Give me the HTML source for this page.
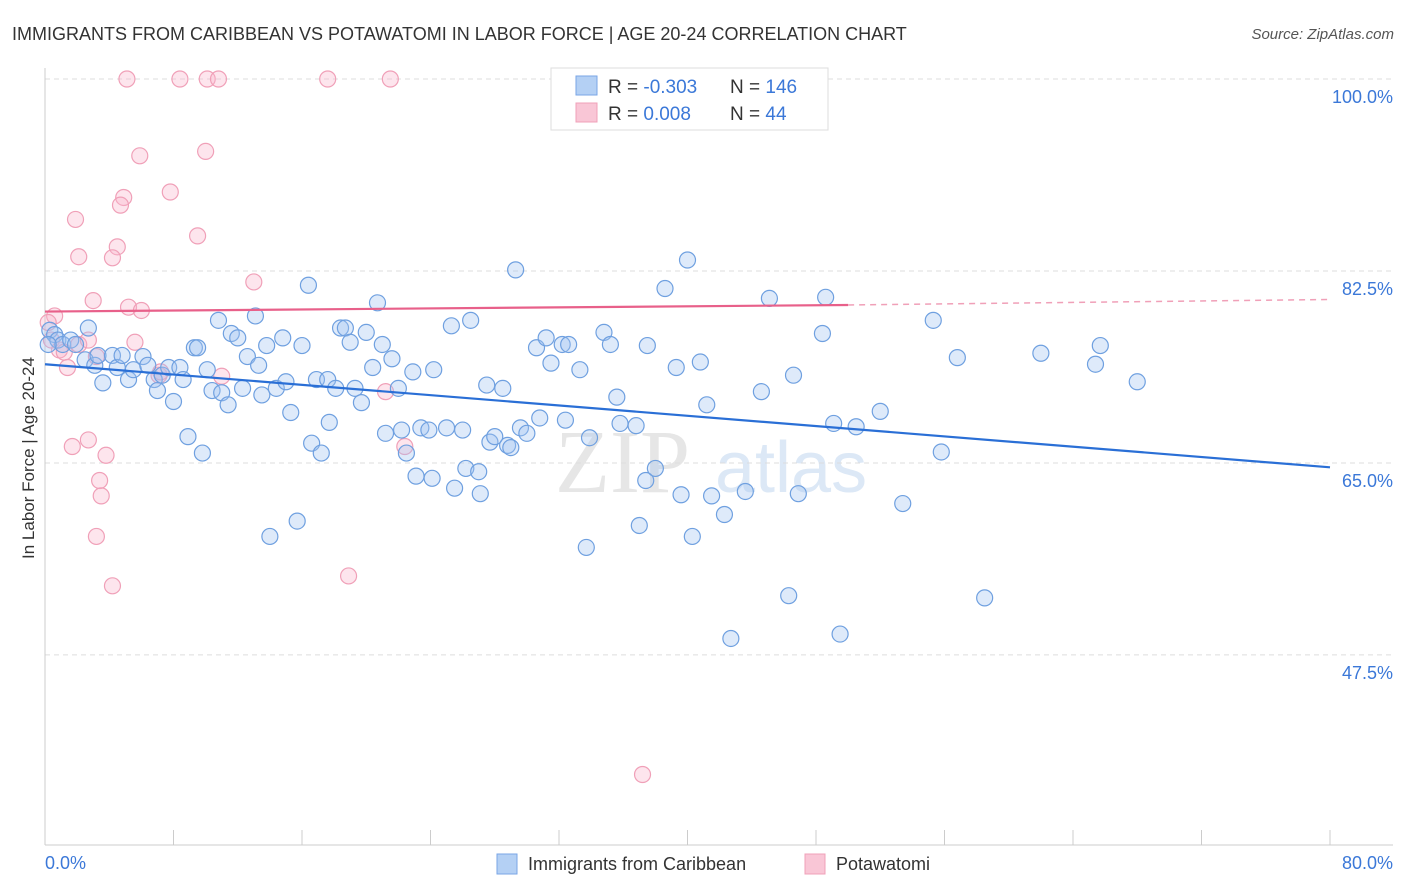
<!DOCTYPE html>
<html><head><meta charset="utf-8"><style>
body{margin:0;background:#fff;font-family:"Liberation Sans",sans-serif;}
svg{display:block}
</style></head><body>
<svg id="chart" width="1406" height="892" xmlns="http://www.w3.org/2000/svg">
<text x="12" y="40" font-size="18" fill="#333">IMMIGRANTS FROM CARIBBEAN VS POTAWATOMI IN LABOR FORCE | AGE 20-24 CORRELATION CHART</text>
<text x="1394" y="39" font-size="15" fill="#555" font-style="italic" text-anchor="end">Source: ZipAtlas.com</text>
<text x="555" y="492" font-size="90" fill="#e6e6e6" font-family="Liberation Serif,serif">ZIP</text>
<text x="715" y="492" font-size="72" fill="#dce8f6">atlas</text>
<g id="grid"></g>
<g id="axes"></g>
<g id="pink"></g>
<g id="blue"></g>
<g id="lines"></g>
<text transform="translate(34,458) rotate(-90)" font-size="17" fill="#333" text-anchor="middle">In Labor Force | Age 20-24</text>
<text x="45" y="869" font-size="18" fill="#3b78d8">0.0%</text>
<text x="1393" y="869" font-size="18" fill="#3b78d8" text-anchor="end">80.0%</text>
<g>
<rect x="551" y="68" width="277" height="62" fill="#fff" stroke="#ddd"/>
<rect x="576" y="76" width="21" height="19" fill="#b4d0f4" stroke="#7aa6e6"/>
<rect x="576" y="103" width="21" height="19" fill="#f9c6d6" stroke="#f0a0b8"/>
<text x="608" y="93" font-size="19" fill="#333">R = <tspan fill="#3b78d8">-0.303</tspan><tspan x="730">N = </tspan><tspan fill="#3b78d8">146</tspan></text>
<text x="608" y="120" font-size="19" fill="#333">R = <tspan fill="#3b78d8"> 0.008</tspan><tspan x="730">N = </tspan><tspan fill="#3b78d8"> 44</tspan></text>
</g>
<g>
<rect x="497" y="854" width="20" height="20" fill="#b4d0f4" stroke="#7aa6e6"/>
<text x="528" y="870" font-size="18" fill="#333">Immigrants from Caribbean</text>
<rect x="805" y="854" width="20" height="20" fill="#f9c6d6" stroke="#f0a0b8"/>
<text x="836" y="870" font-size="18" fill="#333">Potawatomi</text>
</g>
</svg>
<script>
const yTicks=[100,82.5,65,47.5];
const yTickLabels=["100.0%","82.5%","65.0%","47.5%"];
const xTicks=[0,8,16,24,32,40,48,56,64,72,80];
const blueX=[0.3,0.6,0.8,1.1,1.6,1.9,2.7,2.5,3.1,3.3,3.6,4.2,4.5,4.8,5.2,5.5,6.1,6.4,6.8,7.0,7.3,7.7,8.0,8.4,8.6,8.9,9.3,9.5,9.8,10.1,10.4,10.8,11.0,11.4,11.6,12.0,12.3,12.6,13.1,13.3,13.5,13.8,14.0,14.4,14.8,15.0,15.3,15.7,16.0,16.4,16.6,16.9,17.2,17.6,17.7,18.1,18.4,18.7,19.0,19.3,19.7,20.0,20.4,20.7,21.0,21.2,21.6,22.0,22.2,22.5,22.9,23.1,23.4,23.9,24.1,24.2,25.0,25.3,25.5,26.0,26.2,26.5,27.0,27.1,27.5,27.7,28.0,28.5,28.8,29.0,29.3,29.6,30.0,30.6,30.8,31.2,31.5,32.2,32.4,32.6,33.3,33.7,33.9,34.8,35.2,35.6,35.8,36.8,37.0,37.4,37.5,38.0,38.6,39.3,39.6,40.0,40.3,40.8,41.2,41.5,42.3,43.6,44.6,45.1,46.3,46.6,46.9,48.4,48.6,49.1,49.5,50.5,52.0,53.4,55.3,55.8,56.8,58.5,62.0,65.4,65.7,68.0,42.7,0.2];
const blueY=[77.1,76.7,76.2,75.8,76.2,75.8,77.3,74.4,73.9,74.8,72.3,74.8,73.7,74.8,72.6,73.5,74.7,73.9,72.6,71.6,73.0,73.7,70.6,73.7,72.6,67.4,75.5,75.5,65.9,73.5,71.6,78.0,71.4,70.3,76.8,76.4,71.8,74.7,78.4,73.9,71.2,75.7,58.3,71.8,76.4,72.4,69.6,59.7,75.7,81.2,66.8,72.6,65.9,72.6,68.7,71.8,77.3,77.3,76.0,71.8,70.5,76.9,73.7,79.6,75.8,67.7,74.5,71.8,68.0,65.9,73.3,63.8,68.2,68.0,63.6,73.5,68.2,77.5,62.7,68.0,64.5,78.0,64.2,62.2,72.1,66.9,67.4,71.8,66.6,66.4,82.6,68.2,67.7,75.5,69.1,76.4,74.1,75.8,68.9,75.8,73.5,57.3,67.3,76.9,75.8,71.0,68.6,68.4,59.3,63.4,75.7,64.5,80.9,73.7,62.1,83.5,58.3,74.2,70.3,62.0,60.3,62.4,71.5,80.0,52.9,73.0,62.2,76.8,80.1,68.6,49.4,68.3,69.7,61.3,78.0,66.0,74.6,52.7,75.0,74.0,75.7,72.4,49.0,75.8];
const pinkX=[5.1,8.4,10.1,10.8,17.6,21.5,43.1,5.9,10.0,7.8,4.9,4.7,1.9,9.5,4.5,2.1,4.2,13.0,3.0,5.2,6.0,0.6,0.2,0.4,0.9,1.2,2.1,2.7,3.2,1.4,5.6,7.1,11.0,1.7,2.7,3.8,3.4,3.5,3.2,4.2,18.9,21.2,22.4,37.2,7.2];
const pinkY=[100,100,100,100,100,100,100,93.0,93.4,89.7,89.2,88.5,87.2,85.7,84.7,83.8,83.7,81.5,79.8,79.2,78.9,78.4,77.8,76.2,75.3,75.1,75.8,76.2,74.7,73.7,76.0,73.0,72.9,66.5,67.1,65.7,63.4,62.0,58.3,53.8,54.7,71.5,66.5,36.6,73.3];
const blueLine=[74.0,64.6];
const pinkLine=[78.8,79.4,79.9];
const NS="http://www.w3.org/2000/svg";
const X=v=>45+v/80*1285;
const Y=v=>79+(100-v)*10.97;
function mk(tag,attrs,parent){const e=document.createElementNS(NS,tag);for(const k in attrs)e.setAttribute(k,attrs[k]);parent.appendChild(e);return e;}
const grid=document.getElementById('grid'),axes=document.getElementById('axes');
yTicks.forEach((t,i)=>{
  const l=mk('line',{x1:45,x2:1393,y1:Y(t),y2:Y(t),stroke:'#ddd','stroke-dasharray':'5,4'},grid);
  
  
  const tx=mk('text',{x:1393,y:Y(t)+24,'font-size':18,fill:'#3b78d8','text-anchor':'end'},axes);
  tx.textContent=yTickLabels[i];
  
  
});
const ax=mk('line',{x1:45,x2:45,y1:68,y2:845,stroke:'#ccc'},axes);


const bx=mk('line',{x1:45,x2:1393,y1:845,y2:845,stroke:'#ccc'},axes);


xTicks.forEach(t=>{
  const l=mk('line',{x1:X(t),x2:X(t),y1:830,y2:845,stroke:'#ccc'},axes);
  
  
});
const pg=document.getElementById('pink');
pinkX.forEach((x,i)=>{
  const c=mk('circle',{cx:X(x),cy:Y(pinkY[i]),r:8,fill:'rgba(248,180,202,0.35)',stroke:'#f0a0b8','stroke-width':1.2},pg);
  
  
});
const bg=document.getElementById('blue');
blueX.forEach((x,i)=>{
  const c=mk('circle',{cx:X(x),cy:Y(blueY[i]),r:8,fill:'rgba(160,196,240,0.35)',stroke:'#6fa0e0','stroke-width':1.2},bg);
  
  
});
const lg=document.getElementById('lines');
const b=mk('line',{x1:X(0),y1:Y(blueLine[0]),x2:X(80),y2:Y(blueLine[1]),stroke:'#2a6fd6','stroke-width':2.2},lg);


const p=mk('line',{x1:X(0),y1:Y(pinkLine[0]),x2:X(50),y2:Y(pinkLine[1]),stroke:'#e8608a','stroke-width':2.2},lg);


const pd=mk('line',{x1:X(50),y1:Y(pinkLine[1]),x2:X(80),y2:Y(pinkLine[2]),stroke:'#f0a0b8','stroke-width':1.5,'stroke-dasharray':'6,5'},lg);


</script>
</body></html>
